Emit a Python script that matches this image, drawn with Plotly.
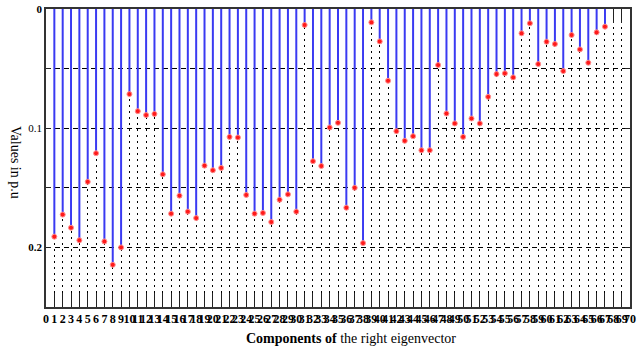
import plotly.graph_objects as go

components = list(range(1, 68))
values = [
    0.191, 0.1725, 0.1835, 0.194, 0.145, 0.121, 0.195, 0.2146, 0.200, 0.0714,
    0.0857, 0.089, 0.088, 0.1387, 0.1717, 0.1566, 0.170, 0.1754, 0.1314, 0.1353,
    0.1333, 0.1073, 0.1078, 0.156, 0.1717, 0.1711, 0.1787, 0.160, 0.1555, 0.170,
    0.0134, 0.1277, 0.1317, 0.0994, 0.0955, 0.1667, 0.150, 0.1964, 0.0112, 0.0272,
    0.0602, 0.1025, 0.1106, 0.1067, 0.1185, 0.1185, 0.047, 0.0877, 0.096, 0.1073,
    0.0919, 0.096, 0.0737, 0.0546, 0.054, 0.0574, 0.0204, 0.012, 0.0462, 0.0275,
    0.0294, 0.0521, 0.0218, 0.0339, 0.0451, 0.0196, 0.0148,
]
x_ticks = list(range(0, 71))
y_ticks = [0, 0.05, 0.1, 0.15, 0.2, 0.25]
y_tick_text = ["<b>0</b>", "", "0.1", "", "<b>0.2</b>", ""]

stem_x, stem_y = [], []
for c, v in zip(components, values):
    stem_x += [c, c, None]
    stem_y += [0, v, None]

fig = go.Figure()
fig.add_trace(go.Scatter(x=stem_x, y=stem_y, mode="lines",
                         line=dict(color="#3a3af2", width=2), hoverinfo="skip"))
fig.add_trace(go.Scatter(x=components, y=values, mode="markers",
                         marker=dict(color="#ff1a1a", size=5,
                                     line=dict(color="#ff9090", width=1))))

font_family = "Liberation Serif, Times New Roman, serif"
fig.update_layout(
    width=644, height=347,
    margin=dict(l=46, r=14, t=9, b=40),
    plot_bgcolor="white", paper_bgcolor="white",
    showlegend=False,
    font=dict(family=font_family, color="black"),
    xaxis=dict(
        range=[0, 70], tickmode="array", tickvals=x_ticks,
        ticktext=[f"<b>{t}</b>" for t in x_ticks], tickangle=0,
        tickfont=dict(size=12, family=font_family), automargin=False,
        showgrid=True, gridcolor="black", griddash="2px,4px", gridwidth=1.4,
        ticks="inside", ticklen=14, tickcolor="#222", tickwidth=1.3,
        showline=True, linecolor="#333", linewidth=1.5, mirror="ticks",
        zeroline=False, layer="below traces",
    ),
    yaxis=dict(
        range=[0.25, 0], tickmode="array", tickvals=y_ticks, ticktext=y_tick_text,
        tickfont=dict(size=11, family=font_family), automargin=False,
        showgrid=True, gridcolor="black", griddash="5px,4px", gridwidth=1.3,
        ticks="inside", ticklen=5, tickcolor="#222",
        showline=True, linecolor="#333", linewidth=1.5, mirror="ticks",
        zeroline=False, layer="below traces",
    ),
    annotations=[
        dict(text="Values in p.u", textangle=90,
             x=(16 - 46) / 584, y=(307 - 162) / 298, xref="paper", yref="paper",
             xanchor="center", yanchor="middle",
             showarrow=False, font=dict(size=14, family=font_family)),
        dict(text="<b>Components of</b> the right eigenvector",
             x=(351 - 46) / 584, y=(307 - 338) / 298,
             xref="paper", yref="paper", showarrow=False,
             xanchor="center", yanchor="middle",
             font=dict(size=14, family=font_family)),
    ],
)
fig.write_html("out.html", config={"displayModeBar": False},
               post_script="document.body.style.margin='0';document.body.style.padding='0';")
